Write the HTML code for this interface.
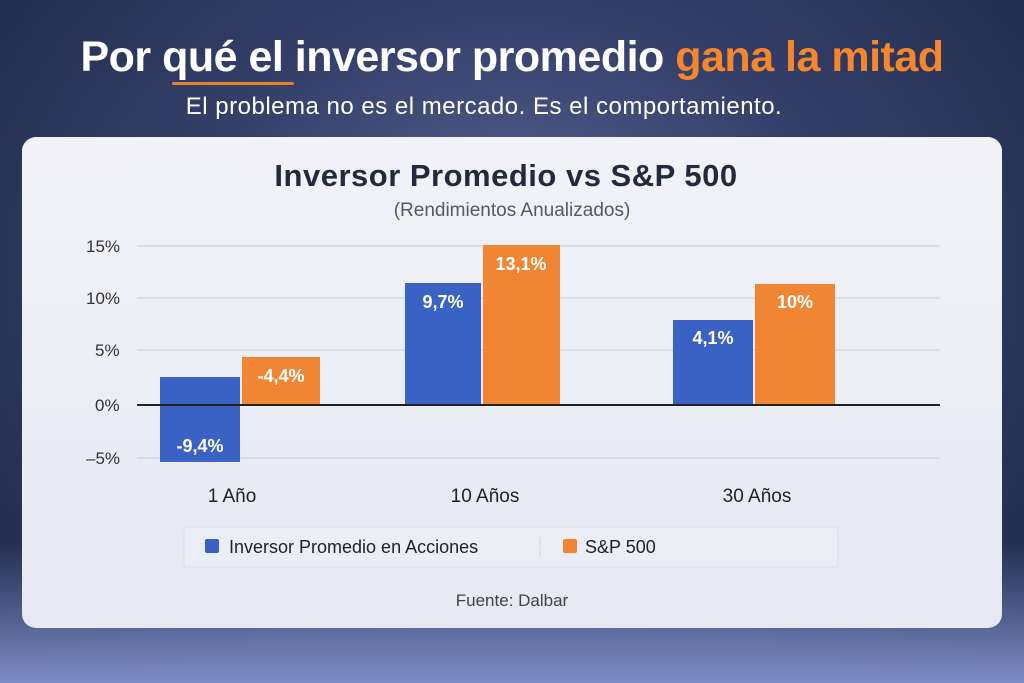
<!DOCTYPE html>
<html><head><meta charset="utf-8"><style>
*{margin:0;padding:0;box-sizing:border-box}
body{width:1024px;height:683px;overflow:hidden;font-family:"Liberation Sans",sans-serif;
background:radial-gradient(ellipse at 50% 40%,#5a6797 0%,#34406a 45%,#1f2847 100%);position:relative}
.bot{position:absolute;left:0;right:0;bottom:0;height:140px;background:linear-gradient(#5e6ca500,#7d8cc6)}
.t{position:absolute;white-space:nowrap}
</style></head><body>
<div class="bot"></div>
<div class="t" style="left:0;width:1024px;top:33px;text-align:center;font-size:43px;font-weight:bold;color:#fff;letter-spacing:-0.5px">Por qué el inversor promedio <span style="color:#f5862c">gana la mitad</span></div>
<div style="position:absolute;left:172px;top:82px;width:122px;height:3px;background:#e8802e;border-radius:2px"></div>
<div class="t" style="left:-28px;width:1024px;top:93px;text-align:center;font-size:24px;color:#fff;letter-spacing:0.5px">El problema no es el mercado. Es el comportamiento.</div>
<div style="position:absolute;left:22px;top:137px;width:980px;height:491px;border-radius:14px;background:linear-gradient(#f2f3f8,#e6e8f3)"></div>
<div class="t" style="left:-6px;width:1024px;top:158px;text-align:center;font-size:31px;font-weight:bold;color:#232a40;letter-spacing:0.5px">Inversor Promedio vs S&amp;P 500</div>
<div class="t" style="left:0;width:1024px;top:200px;text-align:center;font-size:19px;color:#555a68">(Rendimientos Anualizados)</div>
<svg style="position:absolute;left:0;top:0" width="1024" height="683">
<g stroke="#d5d8e2" stroke-width="1.5">
<line x1="137" x2="940" y1="246" y2="246"/><line x1="137" x2="940" y1="298" y2="298"/>
<line x1="137" x2="940" y1="350" y2="350"/><line x1="137" x2="940" y1="458" y2="458"/></g>
<g font-family="Liberation Sans" font-size="17" fill="#333">
<text x="86" y="252">15%</text><text x="86" y="304">10%</text><text x="95" y="356">5%</text>
<text x="95" y="411">0%</text><text x="86" y="464">–5%</text></g>
<rect x="160" y="377" width="80" height="85" fill="#3a62c4"/>
<rect x="242" y="357" width="78" height="48" fill="#f08534"/>
<rect x="405" y="283" width="76" height="122" fill="#3a62c4"/>
<rect x="483" y="245" width="77" height="160" fill="#f08534"/>
<rect x="673" y="320" width="80" height="85" fill="#3a62c4"/>
<rect x="755" y="284" width="80" height="121" fill="#f08534"/>
<line x1="137" x2="940" y1="405" y2="405" stroke="#222" stroke-width="2"/>
<g font-family="Liberation Sans" font-size="18" font-weight="bold" fill="#fff" text-anchor="middle">
<text x="200" y="452">-9,4%</text><text x="281" y="382">-4,4%</text>
<text x="443" y="308">9,7%</text><text x="521" y="270">13,1%</text>
<text x="713" y="344">4,1%</text><text x="795" y="308">10%</text></g>
<g font-family="Liberation Sans" font-size="19" fill="#222" text-anchor="middle">
<text x="232" y="502">1 Año</text><text x="485" y="502">10 Años</text><text x="757" y="502">30 Años</text></g>
<rect x="184" y="527" width="654" height="40" rx="3" fill="#eceef5" stroke="#dde0ea"/>
<rect x="205" y="539" width="14" height="14" rx="2" fill="#3a62c4"/>
<text x="229" y="553" font-family="Liberation Sans" font-size="18" fill="#222">Inversor Promedio en Acciones</text>
<line x1="540" x2="540" y1="537" y2="557" stroke="#d0d3de"/>
<rect x="563" y="539" width="14" height="14" rx="2" fill="#f08534"/>
<text x="585" y="553" font-family="Liberation Sans" font-size="18" fill="#222">S&amp;P 500</text>
<text x="512" y="606" text-anchor="middle" font-family="Liberation Sans" font-size="17" fill="#444">Fuente: Dalbar</text>
</svg>
</body></html>
